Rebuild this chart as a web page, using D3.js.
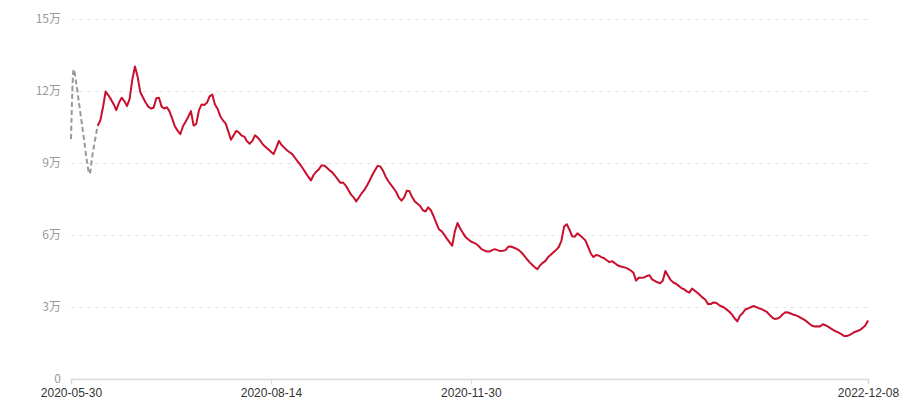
<!DOCTYPE html>
<html>
<head>
<meta charset="utf-8">
<script src="https://cdn.jsdelivr.net/npm/d3@7"></script>
<style>
  html, body { margin: 0; padding: 0; background: #fff; }
  svg { display: block; }
</style>
</head>
<body>
<svg id="chart" width="900" height="400"></svg>
<script>
// Tick labels on the category axis (index in series -> label)
const xTickIndex = [0, 75, 150, 299];
const xTickLabels = ["2020-05-30", "2020-08-14", "2020-11-30", "2022-12-08"];
// Y ticks (unit: 万)
const yTicks = [0, 3, 6, 9, 12, 15];
// The first points (index 0..10) are drawn dashed grey, rest solid red
const dashedEnd = 10;
// Series values (unit: 万), 300 evenly spaced categories
const values = [
  10.0, 12.9, 12.3, 11.5, 10.7, 9.9, 9.05, 8.55, 9.3, 9.95,
  10.55, 10.77, 11.32, 11.98, 11.82, 11.65, 11.45, 11.20, 11.51, 11.72,
  11.58, 11.37, 11.67, 12.48, 13.02, 12.59, 11.95, 11.73, 11.52, 11.35,
  11.27, 11.30, 11.70, 11.72, 11.35, 11.27, 11.32, 11.14, 10.84, 10.52,
  10.35, 10.20, 10.53, 10.72, 10.93, 11.16, 10.56, 10.63, 11.20, 11.44,
  11.42, 11.51, 11.78, 11.85, 11.44, 11.26, 10.95, 10.78, 10.65, 10.32,
  9.97, 10.15, 10.34, 10.27, 10.14, 10.10, 9.91, 9.80, 9.91, 10.15,
  10.07, 9.93, 9.77, 9.67, 9.57, 9.47, 9.37, 9.63, 9.92, 9.75,
  9.64, 9.53, 9.45, 9.37, 9.22, 9.07, 8.93, 8.77, 8.60, 8.43,
  8.27, 8.50, 8.64, 8.74, 8.90, 8.90, 8.80, 8.70, 8.61, 8.48,
  8.33, 8.18, 8.19, 8.07, 7.89, 7.69, 7.57, 7.40, 7.56, 7.73,
  7.87, 8.05, 8.26, 8.49, 8.69, 8.88, 8.86, 8.69, 8.44, 8.25,
  8.10, 7.95, 7.79, 7.56, 7.43, 7.57, 7.85, 7.82, 7.57, 7.40,
  7.30, 7.21, 7.03, 6.98, 7.15, 7.03, 6.79, 6.52, 6.24, 6.16,
  6.02, 5.85, 5.70, 5.55, 6.15, 6.50, 6.27, 6.09, 5.92, 5.82,
  5.73, 5.68, 5.63, 5.53, 5.41, 5.36, 5.31, 5.31, 5.37, 5.41,
  5.37, 5.33, 5.34, 5.37, 5.51, 5.52, 5.48, 5.43, 5.37, 5.27,
  5.14, 5.00, 4.87, 4.76, 4.65, 4.58, 4.74, 4.84, 4.92, 5.08,
  5.18, 5.28, 5.38, 5.50, 5.77, 6.35, 6.45, 6.22, 5.95, 5.93,
  6.07, 5.98, 5.88, 5.77, 5.51, 5.23, 5.08, 5.17, 5.14, 5.08,
  5.03, 4.95, 4.87, 4.91, 4.83, 4.74, 4.70, 4.67, 4.64, 4.59,
  4.52, 4.43, 4.10, 4.22, 4.22, 4.23, 4.29, 4.32, 4.15, 4.09,
  4.03, 3.99, 4.09, 4.50, 4.30, 4.12, 4.02, 3.97, 3.88, 3.79,
  3.74, 3.65, 3.60, 3.77, 3.68, 3.59, 3.49, 3.39, 3.30, 3.12,
  3.12, 3.19, 3.18, 3.09, 3.03, 2.98, 2.89, 2.80, 2.68, 2.52,
  2.40, 2.64, 2.75, 2.90, 2.94, 2.99, 3.04, 3.00, 2.95, 2.91,
  2.86, 2.80, 2.68, 2.57, 2.50, 2.52, 2.58, 2.70, 2.78, 2.77,
  2.73, 2.68, 2.65, 2.60, 2.54, 2.47, 2.40, 2.30, 2.22, 2.19,
  2.20, 2.19, 2.28, 2.24, 2.18, 2.11, 2.04, 1.98, 1.93, 1.87,
  1.79, 1.79, 1.83, 1.89, 1.96, 2.00, 2.04, 2.13, 2.23, 2.44
];

const svg = d3.select("#chart");
const margin = { left: 71, right: 32, top: 19, bottom: 21 };
const W = 900, H = 400;

const x = d3.scaleLinear().domain([0, values.length - 1]).range([margin.left, W - margin.right]);
const y = d3.scaleLinear().domain([0, 15]).range([H - margin.bottom, margin.top]);

const font = "'Noto Sans CJK SC', 'Noto Sans', sans-serif";

// Grid lines + y labels
const yAxis = d3.axisLeft(y)
  .tickValues(yTicks)
  .tickSize(-(W - margin.right - margin.left + 2))
  .tickPadding(10)
  .tickFormat(d => d === 0 ? "0" : d + "万");
const gy = svg.append("g").attr("transform", `translate(${margin.left},0)`).call(yAxis);
gy.select(".domain").remove();
gy.selectAll(".tick line")
  .attr("stroke", "#e6e6e6")
  .attr("stroke-width", 1)
  .attr("stroke-dasharray", "4,4")
  .attr("x1", 0);
gy.selectAll(".tick").filter(d => d === 0).select("line").remove();
gy.selectAll(".tick text")
  .attr("fill", "#999")
  .attr("font-size", 12)
  .attr("font-family", font);

// X axis
const xAxis = d3.axisBottom(x)
  .tickValues(xTickIndex)
  .tickSize(5)
  .tickPadding(3)
  .tickFormat((d, i) => xTickLabels[i]);
const gx = svg.append("g").attr("transform", `translate(0,${y(0)})`).call(xAxis);
gx.select(".domain").attr("stroke", "#d9d9d9").attr("stroke-width", 1.5);
gx.selectAll(".tick line").attr("stroke", "#d9d9d9");
gx.selectAll(".tick text")
  .attr("fill", "#333")
  .attr("font-size", 12)
  .attr("dy", "0.85em")
  .attr("font-family", "'Liberation Sans', Arial, sans-serif");

// Lines
const indexed = values.map((v, i) => ({ i, v }));

svg.append("path")
  .datum(indexed.slice(0, dashedEnd + 1))
  .attr("fill", "none")
  .attr("stroke", "#999")
  .attr("stroke-width", 2)
  .attr("stroke-dasharray", "5,3")
  .attr("d", d3.line().x(d => x(d.i)).y(d => y(d.v)).curve(d3.curveMonotoneX));

svg.append("path")
  .datum(indexed.slice(dashedEnd))
  .attr("fill", "none")
  .attr("stroke", "#c8102e")
  .attr("stroke-width", 2)
  .attr("stroke-linejoin", "round")
  .attr("d", d3.line().x(d => x(d.i)).y(d => y(d.v)));
</script>
</body>
</html>
